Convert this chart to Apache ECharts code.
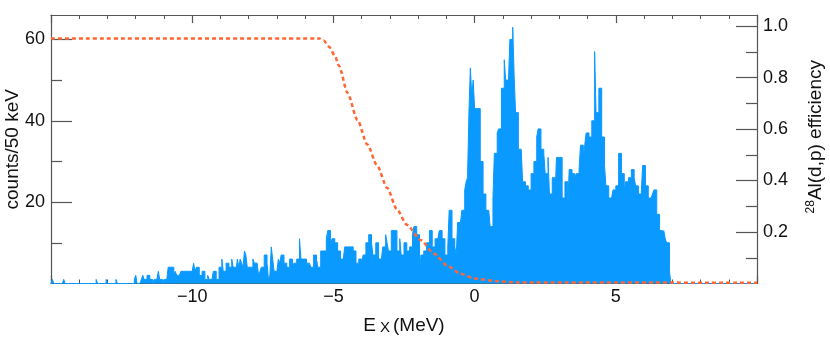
<!DOCTYPE html>
<html>
<head>
<meta charset="utf-8">
<script src="https://cdn.jsdelivr.net/npm/echarts@6/dist/echarts.min.js"></script>
<style>
  html, body { margin: 0; padding: 0; background: #fff; }
  #chart { width: 830px; height: 337px; }
</style>
</head>
<body>
<div id="chart"></div>
<script>
// histogram: 50 keV bins from -15 to 10 MeV, counts per bin
const binStart = -15;
const binWidth = 0.05;

// -15 .. -10 MeV
const countsA = [
  0,1,0,0,0,0,0,0,0,1,0,0,0,0,0,0,0,0,0,0,
  0,0,0,0,0,0,0,0,0,0,0,0,1,0,0,0,0,0,0,1,
  0,0,0,0,0,0,1,0,0,0,0,0,0,0,0,0,0,0,0,1,
  2,0,0,0,1,2,1,1,2,2,1,1,0,1,1,1,3,1,1,0,
  1,1,1,4,4,4,4,2,3,2,2,2,3,3,3,3,3,3,3,3
];
// -10 .. -5 MeV
const countsB = [
  3,5,3,4,4,2,2,3,3,1,1,2,1,1,1,3,3,1,1,4,
  4,6,3,3,5,5,4,4,6,4,4,3,6,4,6,5,4,8,7,4,
  4,4,4,6,5,5,5,2,3,4,4,7,7,5,1,2,9,6,3,3,
  3,6,5,7,7,5,5,4,4,6,6,4,5,5,6,6,11,6,6,6,
  6,5,5,5,4,4,7,7,6,4,4,8,8,8,8,11,13,13,9,11
];
// -5 .. 0 MeV
const countsC = [
  11,10,10,8,8,6,6,6,9,9,9,9,9,9,8,8,5,5,6,6,
  5,7,7,10,10,12,12,10,7,7,10,10,6,6,6,9,9,12,10,8,
  8,13,13,13,13,8,8,11,7,7,10,10,8,8,9,9,12,14,14,12,
  12,3,7,7,8,8,10,10,13,13,9,9,11,11,11,13,13,11,11,7,
  7,9,18,18,11,11,9,7,15,15,15,18,18,23,25,26,42,53,46,50
];
// 0 .. 5 MeV
const countsD = [
  43,43,43,43,30,30,22,22,18,18,18,14,14,21,32,32,37,38,38,48,
  48,55,50,50,50,60,60,63,51,42,42,33,33,33,25,25,24,24,23,23,
  27,27,30,30,36,38,38,33,33,32,27,27,31,22,22,26,26,22,31,31,
  31,31,21,21,25,25,19,28,28,27,27,26,27,27,28,34,34,31,34,37,
  37,36,36,40,40,57,42,42,48,48,36,36,29,24,24,21,21,21,23,23
];
// 5 .. 10 MeV
const countsE = [
  24,24,32,32,27,27,23,25,25,26,26,28,28,26,24,24,22,22,22,29,
  29,24,24,21,21,21,22,23,23,17,17,13,13,12,13,11,10,10,3,0,
  0,0,0,0,0,0,0,0,0,0,0,0,0,0,0,0,0,0,0,0,
  0,0,0,0,0,0,0,0,0,0,0,0,0,0,0,0,0,0,0,0,
  0,0,0,0,0,0,0,0,0,0,0,0,0,0,0,0,0,0,0,0
];

// 28Al(d,p) efficiency curve
const effE = [-15, -5.5, -5.35, -5.15, -4.95, -4.8, -4.5, -4.15, -3.8, -3.45, -3.1,
  -2.75, -2.4, -1.9, -1.45, -0.95, -0.5, 0, 0.8, 1.5, 10];
const effVal = [0.952, 0.952, 0.944, 0.92, 0.885, 0.845, 0.74, 0.636, 0.54, 0.458, 0.372,
  0.288, 0.228, 0.168, 0.117, 0.068, 0.038, 0.019, 0.009, 0.004, 0.003];

const xTicks = [-10, -5, 0, 5];
const countTicks = [20, 40, 60];
const countMinor = [10, 30, 50];
const effTicks = [0.2, 0.4, 0.6, 0.8, 1.0];
const effMinor = [0.1, 0.3, 0.5, 0.7, 0.9];

const counts = countsA.concat(countsB, countsC, countsD, countsE);
const histData = counts.map(function (c, i) {
  return [binStart + i * binWidth, c];
});
histData.push([binStart + counts.length * binWidth, counts[counts.length - 1]]);

const effData = effE.map(function (e, i) {
  return [e, effVal[i]];
});

const FONT = "'Liberation Sans', Arial, Helvetica, sans-serif";
const AXC = "#555";

function minus(v) {
  return v < 0 ? "\u2212" + Math.abs(v) : String(v);
}

function xAx(pos) {
  return {
    type: "value",
    position: pos,
    min: -15,
    max: 10,
    interval: 5,
    axisLine: { show: true, onZero: false, lineStyle: { color: AXC, width: 1.2 } },
    axisTick: { show: true, inside: true, length: 8, lineStyle: { color: AXC, width: 1.2 } },
    minorTick: { show: true, splitNumber: 5, length: 4, lineStyle: { color: AXC, width: 1 } },
    splitLine: { show: false },
    axisLabel: {
      show: pos === "bottom",
      customValues: xTicks,
      formatter: minus,
      margin: 5,
      fontSize: 18,
      fontFamily: FONT,
      color: "#111",
    },
  };
}

function yAx(pos, max, ticks, len, labels, lineShow) {
  return {
    type: "value",
    position: pos,
    min: 0,
    max: max,
    axisLine: { show: lineShow, onZero: false, lineStyle: { color: AXC, width: 1.2 } },
    axisTick: {
      show: true,
      inside: true,
      length: len,
      customValues: ticks,
      lineStyle: { color: AXC, width: 1.2 },
    },
    splitLine: { show: false },
    axisLabel: labels
      ? {
          show: true,
          customValues: ticks,
          formatter: function (v) {
            return max < 2 ? v.toFixed(1) : String(v);
          },
          margin: 6,
          fontSize: 18,
          fontFamily: FONT,
          color: "#111",
        }
      : { show: false },
  };
}

const yCounts = yAx("left", 66, countTicks, 21, true, true);
yCounts.name = "counts/50 keV";
yCounts.nameLocation = "middle";
yCounts.nameMoveOverlap = false;
yCounts.nameGap = 29;
yCounts.nameTextStyle = { fontSize: 19, fontFamily: FONT, color: "#111" };

const yEff = yAx("right", 1.043, effTicks, 21, true, true);
yEff.name = "{s|28}{m|Al(d,p) efficiency}";
yEff.nameLocation = "middle";
yEff.nameMoveOverlap = false;
yEff.nameRotate = 90;
yEff.nameGap = 48;
yEff.nameTextStyle = {
  fontFamily: FONT,
  color: "#111",
  padding: [0, 0, 0, 25],
  rich: {
    s: { fontSize: 12, fontFamily: FONT, color: "#111", verticalAlign: "top", lineHeight: 22 },
    m: { fontSize: 19, fontFamily: FONT, color: "#111", lineHeight: 22 },
  },
};

const xBottom = xAx("bottom");
xBottom.name = "{m|E}{s|X}{m|(MeV)}";
xBottom.nameLocation = "middle";
xBottom.nameGap = 31;
xBottom.nameTextStyle = {
  fontFamily: FONT,
  color: "#111",
  rich: {
    m: { fontSize: 19, fontFamily: FONT, color: "#111", lineHeight: 22 },
    s: { fontSize: 15, fontFamily: FONT, color: "#111", padding: [4, 3, 0, 4], lineHeight: 22 },
  },
};

const option = {
  animation: false,
  backgroundColor: "#fff",
  grid: {
    left: 51,
    right: 73,
    top: 15,
    bottom: 53.5,
    containLabel: false,
    outerBoundsMode: "none",
  },
  xAxis: [xBottom, xAx("top")],
  yAxis: [
    yCounts,
    yAx("left", 66, countMinor, 11, false, false),
    yEff,
    yAx("right", 1.043, effMinor, 11, false, false),
  ],
  series: [
    {
      type: "line",
      xAxisIndex: 0,
      yAxisIndex: 0,
      step: "end",
      data: histData,
      symbol: "none",
      lineStyle: { color: "#0a99ff", width: 1 },
      areaStyle: { color: "#0a99ff", opacity: 1, origin: "start" },
      z: 2,
    },
    {
      type: "line",
      xAxisIndex: 0,
      yAxisIndex: 2,
      data: effData,
      symbol: "none",
      smooth: 0.25,
      smoothMonotone: "x",
      lineStyle: { color: "#ff6633", width: 2.5, type: [4, 3] },
      z: 3,
    },
  ],
};

const myChart = echarts.init(document.getElementById("chart"), null, { renderer: "canvas" });
myChart.setOption(option);
</script>
</body>
</html>
